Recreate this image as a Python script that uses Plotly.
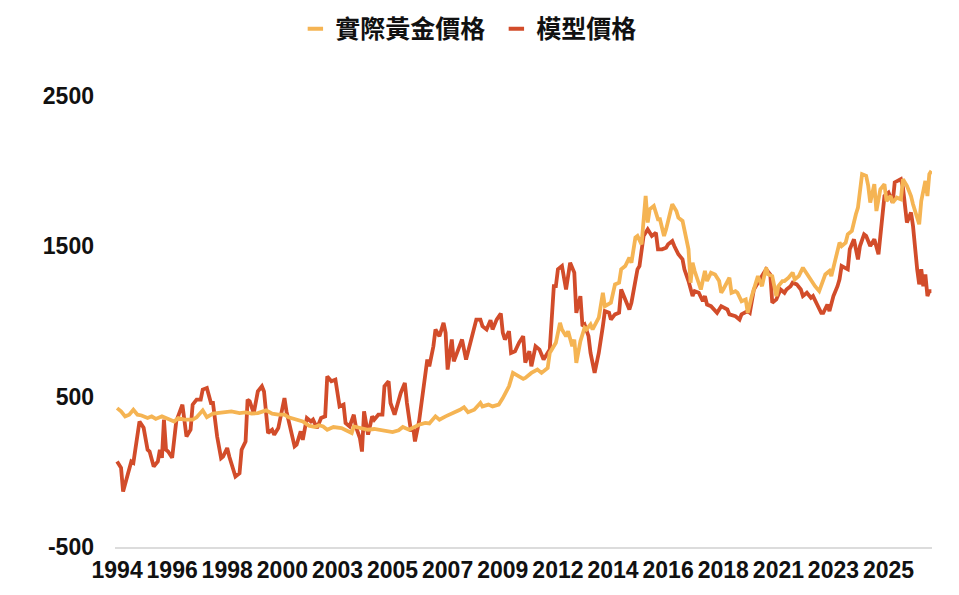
import pandas as pd
import plotly.graph_objects as go

# ---- data (months since Jan 1994, value) ----
model_month = [0,2,3,6,7,8,10,11,13,15,16,18,20,21,22,23,24,25,27,29,32,34,36,37,39,41,42,44,46,47,
               49,51,52,54,55,58,60,61,63,64,65,67,69,71,72,74,76,77,79,82,83,85,87,88,90,91,93,95,96,98,
               100,102,103,105,107,109,111,112,114,116,117,119,120,121,123,125,126,128,130,131,133,134,136,139,141,142,144,145,146,148,
               150,152,153,155,156,158,160,161,162,164,165,167,169,171,173,174,176,178,179,181,183,184,186,188,189,190,192,193,195,197,
               199,200,202,203,205,207,209,212,214,215,216,218,220,222,224,225,227,228,229,231,232,234,236,238,239,241,242,244,246,247,
               249,251,252,255,256,258,260,262,264,265,267,269,270,272,273,275,277,278,280,282,283,285,287,288,289,291,294,296,299,300,
               303,305,306,309,310,312,314,315,317,318,320,321,323,325,327,328,330,331,333,335,336,338,340,341,343,345,346,348,349,351,
               353,354,355,358,359,361,363,364,366,367,369,371,373,375,376,378,380,381,384,385,387,389,390,392,393,394,395,396,397,398,399]
model_value = [69,27,-131,35,69,60,260,335,293,147,135,35,69,147,93,347,147,135,93,335,447,235,280,447,480,480,547,558,458,458,
               235,91,102,158,102,-31,-9,147,202,480,470,391,535,569,535,258,280,247,291,491,402,291,169,180,269,213,358,335,347,291,
               358,369,635,602,613,435,447,325,302,380,302,224,135,402,247,369,347,380,380,569,602,458,380,525,591,458,269,302,202,335,
               547,747,702,835,947,902,991,925,680,880,735,813,880,747,858,902,1013,1013,969,947,1009,947,1013,1053,925,880,935,791,802,860,
               902,727,802,702,835,813,747,813,1235,1235,1347,1369,1213,1391,1325,1058,1169,969,980,902,791,658,791,969,1069,1058,1013,1047,1058,1213,
               1147,1080,1125,1347,1369,1569,1613,1569,1591,1480,1480,1491,1513,1535,1502,1447,1413,1347,1269,1169,1202,1191,1135,1169,1113,1102,1058,1102,1080,1047,
               1035,1013,1047,1069,1058,1213,1258,1280,1325,1347,1313,1125,1147,1213,1191,1213,1235,1258,1247,1213,1169,1191,1158,1169,1113,1058,1058,1113,1069,1169,
               1235,1280,1369,1347,1480,1547,1413,1502,1580,1569,1502,1547,1447,1702,1835,1858,1791,1925,1947,1891,1658,1725,1635,1347,1247,1347,1235,1313,1169,1202,1202]

gold_month = [0,2,4,6,8,10,12,15,17,19,22,25,28,30,33,37,39,42,44,47,50,53,56,60,63,66,69,73,76,79,
              82,84,87,91,94,97,99,101,103,106,110,113,115,116,120,123,126,130,133,135,138,140,143,146,148,151,153,156,158,161,
              163,166,168,170,172,175,178,179,182,184,187,189,192,194,197,199,200,203,206,208,211,212,215,217,218,220,221,223,224,225,
              227,229,230,232,233,236,238,239,242,244,246,247,249,251,252,254,255,257,259,260,261,263,265,266,268,269,271,272,274,275,
              277,278,280,281,282,283,285,286,288,289,291,293,295,296,297,300,301,303,304,306,308,309,311,313,314,316,318,319,321,323,
              324,326,327,329,331,332,334,336,337,339,340,342,344,345,347,349,350,352,354,355,357,358,360,362,363,365,367,368,369,371,
              372,374,376,377,379,380,382,384,385,387,389,390,392,393,394,396,397,398,399]
gold_value = [424,402,369,380,413,380,375,358,369,352,369,352,335,358,347,347,363,409,363,387,391,395,402,391,395,387,391,409,387,380,
              380,363,352,335,307,298,310,302,280,298,291,269,258,302,291,280,285,275,269,264,276,298,280,302,313,325,322,369,347,369,
              380,402,413,430,396,413,458,435,447,435,447,491,569,658,635,618,625,658,680,658,691,791,858,991,947,902,935,835,880,725,
              869,958,947,980,947,1025,1191,1102,1125,1247,1258,1347,1369,1425,1391,1558,1569,1513,1835,1658,1747,1769,1680,1680,1569,1613,1725,1780,1735,1691,
              1669,1602,1480,1258,1391,1336,1258,1213,1336,1269,1325,1313,1269,1191,1213,1291,1191,1202,1191,1135,1147,1058,1169,1258,1302,1235,1358,1313,1302,1169,
              1235,1269,1269,1291,1325,1280,1302,1358,1336,1291,1269,1235,1202,1235,1313,1336,1302,1413,1525,1502,1525,1580,1602,1713,1758,1980,1969,1902,1791,1913,
              1735,1880,1913,1802,1835,1791,1824,1813,1947,1902,1835,1780,1680,1647,1802,1935,1835,1980,2002]

tick_dates = ["1994-01-01", "1996-04-01", "1998-07-01", "2000-10-01", "2003-01-01",
              "2005-04-01", "2007-07-01", "2009-10-01", "2012-01-01", "2014-04-01",
              "2016-07-01", "2018-10-01", "2021-01-01", "2023-04-01", "2025-07-01"]
y_ticks = [-500, 500, 1500, 2500]
y_tick_text = ["-500", "500", "1500", "2500"]

names = ["實際黃金價格", "模型價格"]
colors = ["#F5B453", "#D24C2A"]

base = pd.Timestamp("1994-01-01")
def to_dates(months):
    return [base + pd.DateOffset(months=int(m)) for m in months]

fig = go.Figure()
fig.add_trace(go.Scatter(x=to_dates(model_month), y=model_value, mode="lines",
                         line=dict(color=colors[1], width=3.8), showlegend=False, name=names[1]))
fig.add_trace(go.Scatter(x=to_dates(gold_month), y=gold_value, mode="lines",
                         line=dict(color=colors[0], width=3.8), showlegend=False, name=names[0]))
# legend entries (short dash samples)
for nm, col in zip(names, colors):
    fig.add_trace(go.Scatter(x=[None], y=[None], mode="markers", name=nm,
                             marker=dict(symbol="line-ew", size=11, color=col,
                                         line=dict(width=4, color=col))))

tickfont = dict(family="Liberation Sans, Arial, sans-serif", size=23, color="#111", weight="bold")
fig.update_layout(
    width=959, height=595,
    margin=dict(l=115, r=27, t=96, b=48),
    plot_bgcolor="white", paper_bgcolor="white",
    legend=dict(orientation="h", xref="container", yref="container",
                x=0.308, xanchor="left", y=0.99, yanchor="top",
                font=dict(family="Noto Sans CJK TC, sans-serif", size=25, color="#111", weight="bold"),
                itemwidth=30, entrywidth=156, bgcolor="rgba(0,0,0,0)"),
    xaxis=dict(type="date", range=["1993-12-01", "2027-04-10"],
               tickvals=tick_dates, tickformat="%Y", tickangle=0,
               tickfont=tickfont, showgrid=False, zeroline=False,
               showline=True, linecolor="#dcdcdc", linewidth=2,
               ticks="", ticklabelstandoff=1, automargin=False),
    yaxis=dict(range=[-500, 2500], tickvals=y_ticks, ticktext=y_tick_text, tickfont=tickfont,
               showgrid=False, zeroline=False, showline=False, ticks="",
               ticklabelstandoff=20, automargin=False),
)

fig.write_html("out.html")
